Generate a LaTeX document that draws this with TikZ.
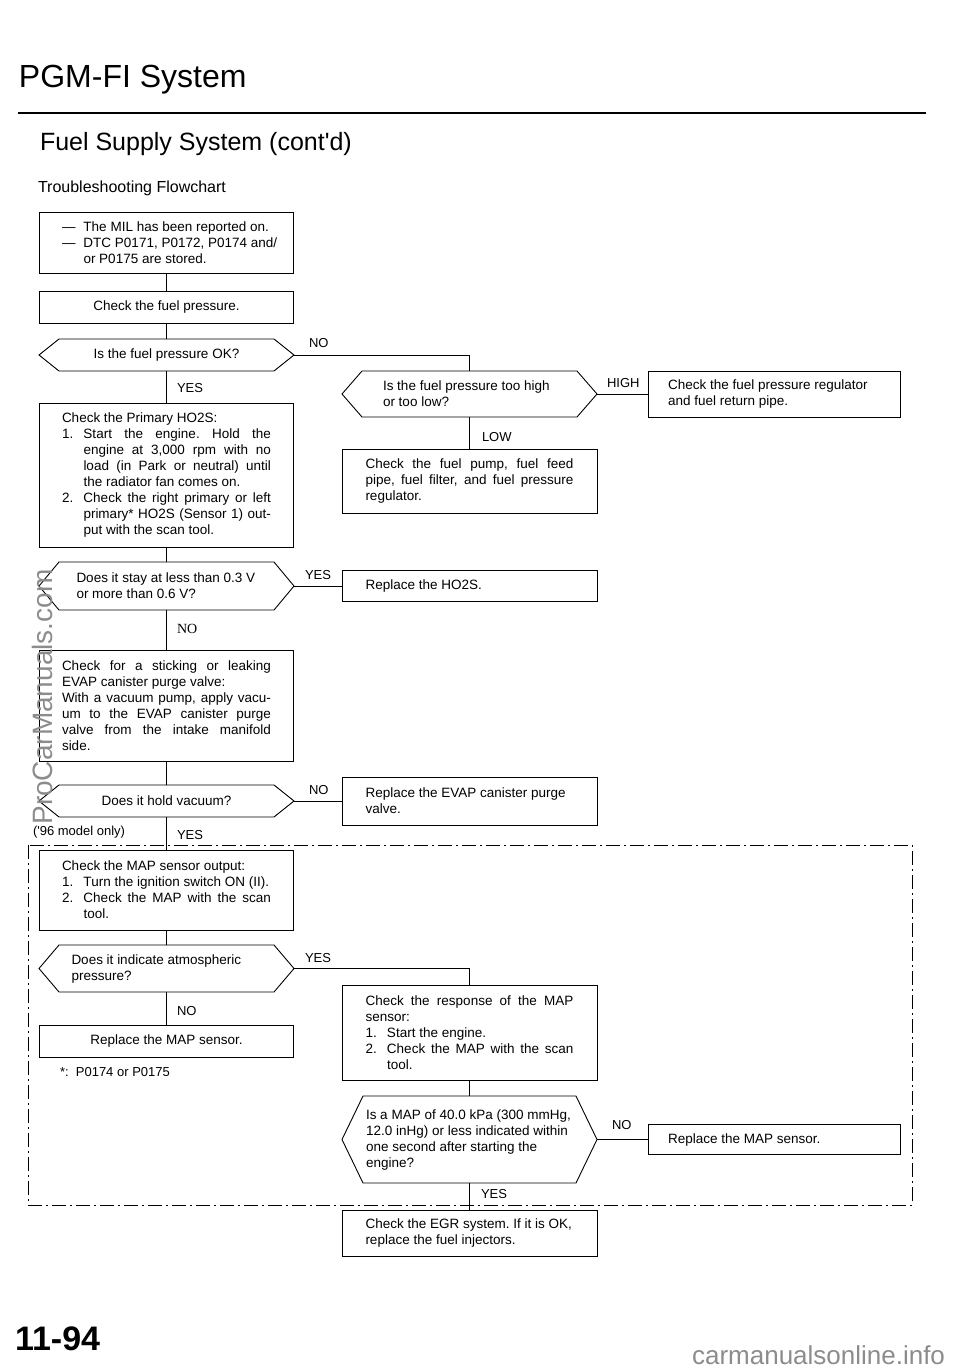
\documentclass[tikz,border=0pt]{standalone}
\usepackage{fontspec}
\setmainfont{Liberation Sans}
\newfontfamily\serifface{Liberation Serif}
\newfontfamily\qfont{Liberation Sans}
\newcommand\sq{{\qfont\char39}}
\usetikzlibrary{calc}
\frenchspacing
\newlength\tw
\newlength\hgi
\setlength\hgi{21.5pt}
\newcommand\bodyfont{\fontsize{13.5}{16}\selectfont}
\newcommand\Ln[1]{\makebox[\tw][l]{#1}}
\newcommand\Js[1]{\makebox[\tw][s]{#1}}
\newcommand\Li[2]{\makebox[\hgi][l]{#1}\makebox[\dimexpr\tw-\hgi\relax][l]{#2}}
\newcommand\Ji[2]{\makebox[\hgi][l]{#1}\makebox[\dimexpr\tw-\hgi\relax][s]{#2}}
\newcommand\hexpath[2]{\draw[conn] (#1.west) -- ([xshift=#2]#1.north west) -- ([xshift=-#2]#1.north east) -- (#1.east) -- ([xshift=-#2]#1.south east) -- ([xshift=#2]#1.south west) -- cycle;}
\tikzset{
  basenode/.style={inner sep=0pt, outer sep=0pt},
  box/.style={basenode, draw, line width=0.9pt, align=left},
  hexn/.style={basenode, align=left},
  tw/.style={font=\bodyfont\setlength{\tw}{#1}},
  lbl/.style={basenode, anchor=west, font=\fontsize{13}{15}\selectfont},
  conn/.style={line width=0.9pt},
  frame/.style={line width=0.8pt, dash pattern=on 14pt off 4pt on 2pt off 4pt},
}
\begin{document}
\begin{tikzpicture}[x=1pt,y=-1pt]
\useasboundingbox (0,0) rectangle (960,1371);

% headings
\node[basenode, anchor=base west, font=\fontsize{32}{36}\selectfont] (title) at (19,87) {PGM-FI System};
\draw[line width=2pt] (18,113) -- (926,113);
\node[basenode, anchor=base west, font=\fontsize{25}{30}\selectfont] (subtitle) at (40,150) {Fuel Supply System (cont\sq d)};
\node[basenode, anchor=base west, font=\fontsize{16}{19}\selectfont] (sect) at (38,192) {Troubleshooting Flowchart};

% dash-dot frame
\draw[frame] (28,845) rectangle (912,1205);

% left column
\node[box, tw=209pt, minimum width=254pt, minimum height=61pt] (b1) at (166.5,242.5)
 {\Li{---}{The MIL has been reported on.}\\
  \Li{---}{DTC P0171, P0172, P0174 and/}\\
  \Li{}{or P0175 are stored.}};
\node[box, font=\bodyfont, align=center, minimum width=254pt, minimum height=32pt] (b2) at (166.5,307) {Check the fuel pressure.};
\node[hexn, font=\bodyfont, align=center, minimum width=255pt, minimum height=32pt] (d1) at (166.5,355) {Is the fuel pressure OK?};
\hexpath{d1}{20pt}
\node[box, tw=209pt, minimum width=254pt, minimum height=144pt] (b3) at (166.5,475)
 {\Ln{Check the Primary HO2S:}\\
  \Ji{1.}{Start the engine. Hold the}\\
  \Ji{}{engine at 3,000 rpm with no}\\
  \Ji{}{load (in Park or neutral) until}\\
  \Li{}{the radiator fan comes on.}\\
  \Ji{2.}{Check the right primary or left}\\
  \Ji{}{primary* HO2S (Sensor 1) out-}\\
  \Li{}{put with the scan tool.}};
\node[hexn, tw=180pt, minimum width=255pt, minimum height=48pt] (d3) at (166.5,586)
 {\Ln{Does it stay at less than 0.3 V}\\ \Ln{or more than 0.6 V?}};
\hexpath{d3}{20pt}
\node[box, tw=209pt, minimum width=254pt, minimum height=111pt] (b4) at (166.5,705.5)
 {\Js{Check for a sticking or leaking}\\
  \Ln{EVAP canister purge valve:}\\
  \Js{With a vacuum pump, apply vacu-}\\
  \Js{um to the EVAP canister purge}\\
  \Js{valve from the intake manifold}\\
  \Ln{side.}};
\node[hexn, font=\bodyfont, align=center, minimum width=255pt, minimum height=32pt] (d4) at (166.5,801) {Does it hold vacuum?};
\hexpath{d4}{20pt}
\node[box, tw=209pt, minimum width=254pt, minimum height=80pt] (b5) at (166.5,890)
 {\Ln{Check the MAP sensor output:}\\
  \Li{1.}{Turn the ignition switch ON (II).}\\
  \Ji{2.}{Check the MAP with the scan}\\
  \Li{}{tool.}};
\node[hexn, tw=190pt, minimum width=255pt, minimum height=47pt] (d5) at (166.5,968.5)
 {\Ln{Does it indicate atmospheric}\\ \Ln{pressure?}};
\hexpath{d5}{20pt}
\node[box, font=\bodyfont, align=center, minimum width=254pt, minimum height=32pt] (mapl) at (166.5,1041) {Replace the MAP sensor.};

% right column
\node[hexn, tw=173pt, minimum width=255pt, minimum height=46pt] (d2) at (469.5,394)
 {\Ln{Is the fuel pressure too high}\\ \Ln{or too low?}};
\hexpath{d2}{20pt}
\node[box, tw=212pt, minimum width=252pt, minimum height=46pt] (high) at (774,394)
 {\Ln{Check the fuel pressure regulator}\\ \Ln{and fuel return pipe.}};
\node[box, tw=208pt, minimum width=255pt, minimum height=64pt] (low) at (469.5,481)
 {\Js{Check the fuel pump, fuel feed}\\
  \Js{pipe, fuel filter, and fuel pressure}\\
  \Ln{regulator.}};
\node[box, tw=208pt, minimum width=255pt, minimum height=31pt] (ho2s) at (469.5,586) {\Ln{Replace the HO2S.}};
\node[box, tw=208pt, minimum width=255pt, minimum height=48pt] (evap) at (469.5,801)
 {\Ln{Replace the EVAP canister purge}\\ \Ln{valve.}};
\node[box, tw=208pt, minimum width=255pt, minimum height=95pt] (resp) at (469.5,1032.5)
 {\Js{Check the response of the MAP}\\
  \Ln{sensor:}\\
  \Li{1.}{Start the engine.}\\
  \Ji{2.}{Check the MAP with the scan}\\
  \Li{}{tool.}};
\node[hexn, tw=207pt, minimum width=255pt, minimum height=87pt] (d6) at (469.5,1139.5)
 {\Ln{Is a MAP of 40.0 kPa (300 mmHg,}\\
  \Ln{12.0 inHg) or less indicated within}\\
  \Ln{one second after starting the}\\
  \Ln{engine?}};
\hexpath{d6}{21pt}
\node[box, tw=212pt, minimum width=252pt, minimum height=30pt] (mapr) at (774,1139.5) {\Ln{Replace the MAP sensor.}};
\node[box, tw=208pt, minimum width=255pt, minimum height=46pt] (egr) at (469.5,1233)
 {\Ln{Check the EGR system. If it is OK,}\\ \Ln{replace the fuel injectors.}};

% connectors
\draw[conn] (b1.south) -- (b2.north);
\draw[conn] (b2.south) -- (d1.north);
\draw[conn] (d1.east) -| (d2.north);
\draw[conn] (d2.east) -- (d2.east -| high.west);
\draw[conn] (d2.south) -- (low.north);
\draw[conn] (d1.south) -- (b3.north);
\draw[conn] (b3.south) -- (d3.north);
\draw[conn] (d3.east) -- (d3.east -| ho2s.west);
\draw[conn] (d3.south) -- (b4.north);
\draw[conn] (b4.south) -- (d4.north);
\draw[conn] (d4.east) -- (d4.east -| evap.west);
\draw[conn] (d4.south) -- (b5.north);
\draw[conn] (b5.south) -- (d5.north);
\draw[conn] (d5.east) -| (resp.north);
\draw[conn] (d5.south) -- (mapl.north);
\draw[conn] (resp.south) -- (d6.north);
\draw[conn] (d6.east) -- (d6.east -| mapr.west);
\draw[conn] (d6.south) -- (egr.north);

% labels
\node[lbl] (l1) at (309,343) {NO};
\node[lbl] (l2) at (177,388) {YES};
\node[lbl] (l3) at (607,383) {HIGH};
\node[lbl] (l4) at (482,437) {LOW};
\node[lbl] (l5) at (305,575) {YES};
\node[lbl, font=\serifface\fontsize{14}{16}\selectfont] (l6) at (177,629) {NO};
\node[lbl] (l7) at (309,790) {NO};
\node[lbl] (l8) at (177,835) {YES};
\node[lbl] (l9) at (33,832) {(\sq 96 model only)};
\node[lbl] (l10) at (305,958) {YES};
\node[lbl] (l11) at (177,1011) {NO};
\node[lbl] (l12) at (60,1072) {*:\ \ P0174 or P0175};
\node[lbl] (l13) at (612,1125) {NO};
\node[lbl] (l14) at (481,1194) {YES};

% page number and watermarks
\node[basenode, anchor=base west, font=\bfseries\fontsize{34}{38}\selectfont] (pg) at (15,1350) {11-94};
\node[basenode, rotate=90, text=black!45, font=\fontsize{28}{32}\selectfont] (wm1) at (42,697) {ProCarManuals.com};
\node[basenode, anchor=base east, text=black!45, font=\fontsize{26}{30}\selectfont] (wm2) at (945,1364) {carmanualsonline.info};
\end{tikzpicture}
\end{document}
